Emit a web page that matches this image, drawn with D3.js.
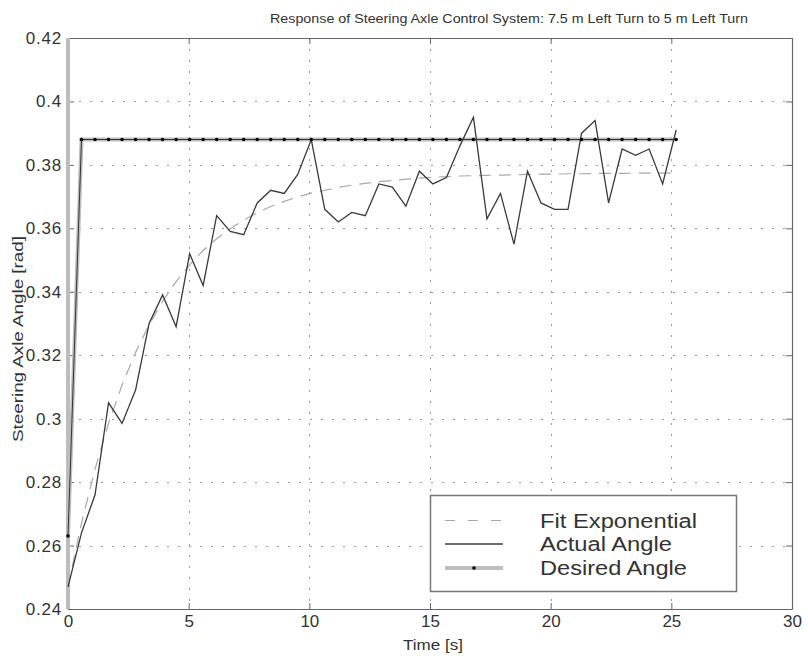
<!DOCTYPE html>
<html>
<head>
<meta charset="utf-8">
<script src="https://cdn.jsdelivr.net/npm/d3@7"></script>
<style>
  html, body { margin: 0; padding: 0; background: #fff; }
  svg { display: block; }
  text { font-family: "Liberation Sans", Arial, sans-serif; fill: #333; }
</style>
</head>
<body>
<svg id="chart" width="808" height="656"></svg>
<script>
// ---- data ----
const time = [0,0.56,1.12,1.68,2.24,2.8,3.36,3.92,4.48,5.04,5.6,6.16,6.72,7.28,7.84,8.4,8.96,9.52,10.08,10.64,11.2,11.76,12.32,12.88,13.44,14,14.56,15.12,15.68,16.24,16.8,17.36,17.92,18.48,19.04,19.6,20.16,20.72,21.28,21.84,22.4,22.96,23.52,24.08,24.64,25.2];
const actualAngle = [0.247,0.264,0.276,0.305,0.2985,0.309,0.330,0.339,0.329,0.352,0.342,0.364,0.359,0.358,0.368,0.372,0.371,0.377,0.388,0.366,0.362,0.365,0.364,0.374,0.373,0.367,0.378,0.374,0.376,0.386,0.395,0.363,0.371,0.355,0.378,0.368,0.366,0.366,0.390,0.394,0.368,0.385,0.383,0.385,0.374,0.391];
const desiredAngle = [0.263,0.388,0.388,0.388,0.388,0.388,0.388,0.388,0.388,0.388,0.388,0.388,0.388,0.388,0.388,0.388,0.388,0.388,0.388,0.388,0.388,0.388,0.388,0.388,0.388,0.388,0.388,0.388,0.388,0.388,0.388,0.388,0.388,0.388,0.388,0.388,0.388,0.388,0.388,0.388,0.388,0.388,0.388,0.388,0.388,0.388];
const fitExponential = [0.2470,0.2671,0.2841,0.2985,0.3106,0.3209,0.3296,0.3370,0.3432,0.3485,0.3530,0.3567,0.3599,0.3626,0.3649,0.3669,0.3685,0.3699,0.3711,0.3720,0.3729,0.3736,0.3742,0.3747,0.3751,0.3755,0.3758,0.3761,0.3763,0.3765,0.3766,0.3767,0.3768,0.3769,0.3770,0.3771,0.3771,0.3772,0.3772,0.3773,0.3773,0.3773,0.3774,0.3774,0.3774,0.3774];
const xTicks = [0,5,10,15,20,25,30];
const yTicks = [0.24,0.26,0.28,0.30,0.32,0.34,0.36,0.38,0.40,0.42];
const yTickLabels = ["0.24","0.26","0.28","0.3","0.32","0.34","0.36","0.38","0.4","0.42"];
const legendLabels = ["Fit Exponential","Actual Angle","Desired Angle"];
const titleText = "Response of Steering Axle Control System: 7.5 m Left Turn to 5 m Left Turn";
const xLabel = "Time [s]";
const yLabel = "Steering Axle Angle [rad]";

// ---- layout ----
const L = 68, R = 792, T = 38, B = 609;
const svg = d3.select("#chart");
const x = d3.scaleLinear().domain([0,30]).range([L,R]);
const y = d3.scaleLinear().domain([0.24,0.42]).range([B,T]);

// grid
const grid = svg.append("g").attr("stroke","#9a9a9a").attr("stroke-width",1).attr("stroke-dasharray","2,9");
grid.selectAll("line.gx").data(xTicks.slice(1,-1)).join("line")
  .attr("x1",d=>Math.round(x(d))+0.5).attr("x2",d=>Math.round(x(d))+0.5).attr("y1",T).attr("y2",B);
grid.selectAll("line.gy").data(yTicks.slice(1,-1)).join("line")
  .attr("y1",d=>Math.round(y(d))+0.5).attr("y2",d=>Math.round(y(d))+0.5).attr("x1",L).attr("x2",R);

// axes
const tickLen = 6;
const axB = svg.append("g").attr("transform",`translate(0,${B})`)
  .call(d3.axisBottom(x).tickValues(xTicks).tickSizeInner(-tickLen).tickSizeOuter(0).tickPadding(6).tickFormat(d3.format("d")));
const axT = svg.append("g").attr("transform",`translate(0,${T})`)
  .call(d3.axisTop(x).tickValues(xTicks).tickSizeInner(-tickLen).tickSizeOuter(0).tickFormat(""));
const axL = svg.append("g").attr("transform",`translate(${L},0)`)
  .call(d3.axisLeft(y).tickValues(yTicks).tickSizeInner(-tickLen).tickSizeOuter(0).tickPadding(6).tickFormat((d,i)=>yTickLabels[i]));
const axR = svg.append("g").attr("transform",`translate(${R},0)`)
  .call(d3.axisRight(y).tickValues(yTicks).tickSizeInner(-tickLen).tickSizeOuter(0).tickFormat(""));
[axB,axT,axL,axR].forEach(a=>{
  a.selectAll("path.domain").attr("stroke","#666").attr("stroke-width",1.2);
  a.selectAll(".tick line").attr("stroke","#666");
  a.selectAll("text").attr("font-size",17).attr("fill","#333").attr("font-family","Liberation Sans, Arial, sans-serif");
});
axL.selectAll("text").attr("letter-spacing","0.8px");
// thick grey overlay on the left edge
svg.append("line").attr("x1",L).attr("x2",L).attr("y1",T).attr("y2",B)
  .attr("stroke","#bdbdbd").attr("stroke-width",4);

// series
const line = d3.line().x((d,i)=>x(time[i])).y(d=>y(d));
svg.append("path").datum(fitExponential).attr("d",line)
  .attr("fill","none").attr("stroke","#a8a8a8").attr("stroke-width",1.2).attr("stroke-dasharray","12,8");
svg.append("path").datum(desiredAngle).attr("d",line)
  .attr("fill","none").attr("stroke","#bdbdbd").attr("stroke-width",4);
svg.append("path").datum(desiredAngle).attr("d",line)
  .attr("fill","none").attr("stroke","#333").attr("stroke-width",1);
svg.append("path").datum(actualAngle).attr("d",line)
  .attr("fill","none").attr("stroke","#3a3a3a").attr("stroke-width",1.3);
svg.append("g").selectAll("circle").data(desiredAngle).join("circle")
  .attr("cx",(d,i)=>x(time[i])).attr("cy",d=>y(d)).attr("r",1.8).attr("fill","#000");

// legend
const lg = svg.append("g");
lg.append("rect").attr("x",430.5).attr("y",495.5).attr("width",306).attr("height",96)
  .attr("fill","#fff").attr("stroke","#777").attr("stroke-width",1.5);
const rowsY = [520.5,544,568];
lg.append("line").attr("x1",445).attr("x2",503).attr("y1",rowsY[0]).attr("y2",rowsY[0])
  .attr("stroke","#a8a8a8").attr("stroke-width",1.2).attr("stroke-dasharray","10,13");
lg.append("line").attr("x1",445).attr("x2",503).attr("y1",rowsY[1]).attr("y2",rowsY[1])
  .attr("stroke","#3a3a3a").attr("stroke-width",1.3);
lg.append("line").attr("x1",445).attr("x2",503).attr("y1",rowsY[2]).attr("y2",rowsY[2])
  .attr("stroke","#bdbdbd").attr("stroke-width",4);
lg.append("circle").attr("cx",474).attr("cy",rowsY[2]).attr("r",1.8).attr("fill","#000");
const legW = [157,132,147];
lg.selectAll("text").data(legendLabels).join("text")
  .attr("x",540).attr("y",(d,i)=>rowsY[i]+7)
  .attr("font-size",20).attr("textLength",(d,i)=>legW[i]).attr("lengthAdjust","spacingAndGlyphs")
  .text(d=>d);

// titles
svg.append("text").attr("x",509).attr("y",23).attr("text-anchor","middle")
  .attr("font-size",13).attr("textLength",478).attr("lengthAdjust","spacingAndGlyphs").text(titleText);
svg.append("text").attr("x",433).attr("y",650).attr("text-anchor","middle")
  .attr("font-size",14).attr("textLength",60).attr("lengthAdjust","spacingAndGlyphs").text(xLabel);
svg.append("text").attr("transform","translate(23,339) rotate(-90)").attr("text-anchor","middle")
  .attr("font-size",14).attr("textLength",206).attr("lengthAdjust","spacingAndGlyphs").text(yLabel);
</script>
</body>
</html>
